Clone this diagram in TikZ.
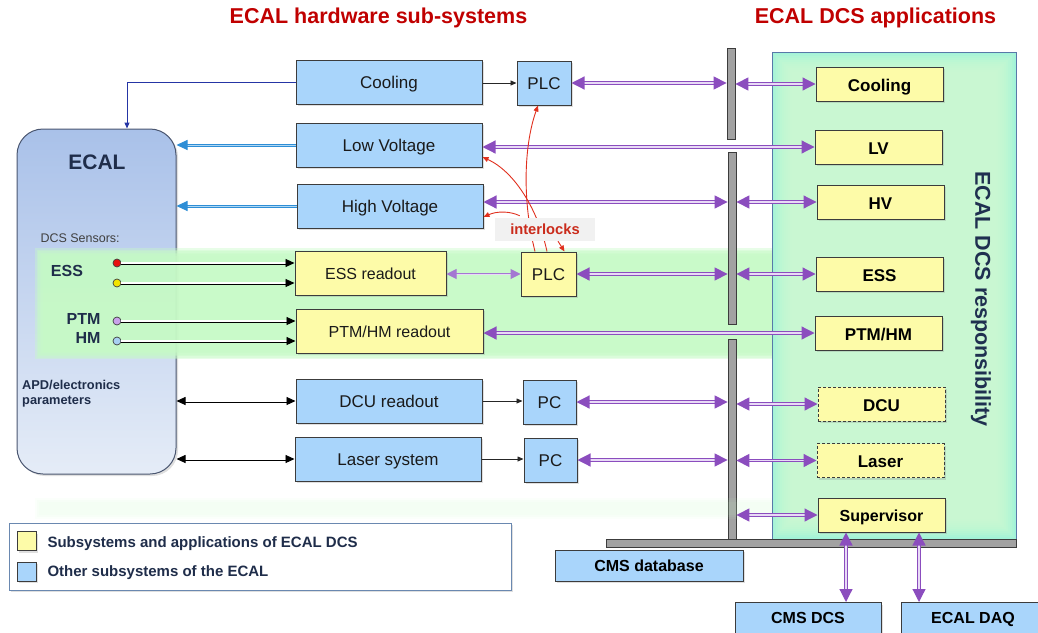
\documentclass[tikz,border=0pt]{standalone}
\usepackage{fontspec}
\setmainfont{Liberation Sans}
\usetikzlibrary{arrows.meta,shadows,calc}

\definecolor{hwblue}{HTML}{A9D5FB}
\definecolor{dcsyel}{HTML}{FDFBA8}
\definecolor{boxline}{HTML}{3C3C3C}
\definecolor{txt}{HTML}{1A1A1A}
\definecolor{navy}{HTML}{1F2D4A}
\definecolor{respnavy}{HTML}{1F3050}
\definecolor{titlered}{HTML}{C00000}
\definecolor{lockred}{HTML}{E0301E}
\definecolor{lockbg}{HTML}{F1F1F1}
\definecolor{purp}{HTML}{8B4DBE}
\definecolor{purpin}{HTML}{E8DAF6}
\definecolor{purplite}{HTML}{A477D2}
\definecolor{barg}{HTML}{A2A2A2}
\definecolor{bandg}{HTML}{C6FAC6}
\definecolor{panelaqua}{HTML}{A2F3D8}
\definecolor{panelg}{HTML}{D2FCD2}
\definecolor{panelline}{HTML}{5878A8}
\definecolor{ecaltop}{HTML}{A9C1E9}
\definecolor{ecalbot}{HTML}{E5ECF7}
\definecolor{ecalline}{HTML}{4A5670}
\definecolor{skyline}{HTML}{2E8ED6}
\definecolor{skyin}{HTML}{B0D8F4}
\definecolor{cooldark}{HTML}{2535A5}
\definecolor{legline}{HTML}{6A88B0}
\definecolor{dotred}{HTML}{E81010}
\definecolor{dotyel}{HTML}{F2E400}
\definecolor{dotlav}{HTML}{C9A2EA}
\definecolor{dotsky}{HTML}{A8D0F2}

\pgfdeclarelayer{front}
\pgfsetlayers{main,front}

\tikzset{
  shade2/.style={drop shadow={shadow xshift=2pt,shadow yshift=-2pt,opacity=0.25}},
  hwbox/.style={draw=boxline, line width=1pt, fill=hwblue, inner sep=0pt,
    minimum height=44pt, text=txt, font=\fontsize{17}{20}\selectfont,
    text height=13.5pt, text depth=0pt, shade2},
  dcsbox/.style={hwbox, fill=dcsyel, font=\fontsize{16}{19}\selectfont, text height=12.8pt},
  appbox/.style={draw=boxline, line width=1pt, fill=dcsyel, inner sep=0pt,
    minimum width=127pt, minimum height=34pt, text=black,
    font=\bfseries\fontsize{17}{20}\selectfont, text height=14pt, text depth=0pt, shade2},
  futurebox/.style={appbox, dashed, dash pattern=on 3pt off 2pt},
  extbox/.style={draw=boxline, line width=1pt, fill=hwblue, inner sep=0pt,
    text=black, font=\bfseries\fontsize{16}{19}\selectfont, shade2},
  busbar/.style={draw=boxline, line width=0.8pt, fill=barg, inner sep=0pt, minimum width=8pt},
  link/.style={draw=purp, line width=1.2pt, double=purpin, double distance=1.1pt,
    {Triangle[length=13pt,width=13pt]}-{Triangle[length=13pt,width=13pt]}},
  lightlink/.style={draw=purplite, line width=1pt, double=purpin, double distance=0.9pt,
    {Triangle[length=10pt,width=10pt]}-{Triangle[length=10pt,width=10pt]}},
  sens/.style={draw=black, line width=0.9pt, double=white, double distance=1.2pt,
    -{Triangle[length=9pt,width=8pt]}},
  sensboth/.style={sens, {Triangle[length=9pt,width=8pt]}-{Triangle[length=9pt,width=8pt]}},
  sky/.style={draw=skyline, line width=1pt, double=skyin, double distance=1pt,
    -{Triangle[length=11pt,width=10pt]}},
  feed/.style={draw=black!85, line width=0.8pt, -{Triangle[length=6pt,width=5pt]}},
  lock/.style={draw=lockred, line width=0.9pt, -{Triangle[length=6pt,width=5pt]}},
  dot/.style={circle, draw=black!75, line width=0.7pt, minimum size=8pt, inner sep=0pt},
}

\begin{document}
\begin{tikzpicture}[x=1pt,y=-1pt]
\useasboundingbox (0,0) rectangle (1038,632);
\clip (0,0) rectangle (1038,632);

% column titles
\node[font=\bfseries\fontsize{21.5}{24}\selectfont, text=titlered] (thw) at (378.5,18) {ECAL hardware sub-systems};
\node[font=\bfseries\fontsize{21.5}{24}\selectfont, text=titlered] (tapp) at (875.5,18) {ECAL DCS applications};

% DCS responsibility panel with a soft inner glow
\fill[panelaqua] (772,52) rectangle (1016,539);
\foreach \d in {2,4,...,20}
  \fill[panelg, opacity=0.18] ({772+\d},{52+\d}) rectangle ({1016-\d},{539-\d});
\draw[panelline, line width=1pt] (772,52) rectangle (1016,539);
\node[rotate=-90, font=\bfseries\fontsize{21.5}{26}\selectfont, text=respnavy] (resp) at (981,299) {ECAL DCS responsibility};

% the calorimeter itself
\node[draw=ecalline, line width=1pt, rounded corners=26pt, top color=ecaltop, bottom color=ecalbot,
  minimum width=159pt, minimum height=345pt, inner sep=0pt, shade2] (ecal) at (96.5,301.5) {};

% green band of the sensor chains
\foreach \d in {0,1.5,...,7.5}
  \fill[bandg, opacity=0.4] ({35+\d},{248+\d}) rectangle (772,{359-\d});

% labels inside the calorimeter
\node[font=\bfseries\fontsize{21}{24}\selectfont, text=navy] (ecalname) at (97,162) {ECAL};
\node[anchor=west, font=\fontsize{12.5}{15}\selectfont, text=black!75] (sensors) at (37,238) {DCS Sensors:};
\node[font=\bfseries\fontsize{16}{19}\selectfont, text=navy] (esslbl) at (67,271) {ESS};
\node[anchor=east, font=\bfseries\fontsize{16}{19}\selectfont, text=navy] (ptmlbl) at (104,319) {PTM};
\node[anchor=east, font=\bfseries\fontsize{16}{19}\selectfont, text=navy] (hmlbl) at (104,338) {HM};
\node[anchor=west, align=left, inner sep=0pt, font=\bfseries\fontsize{12.8}{15}\selectfont, text=navy] (apd) at (22,393.5) {APD/electronics\\parameters};

\node[dot, fill=dotred] (sred) at (117,263) {};
\node[dot, fill=dotyel] (syel) at (117,283) {};
\node[dot, fill=dotlav] (sptm) at (117,321) {};
\node[dot, fill=dotsky] (shm) at (117,341) {};

% DCS buses
\node[busbar, minimum height=91pt] (bar1) at (731,93.5) {};
\node[busbar, minimum height=172pt] (bar2) at (732,238) {};
\node[busbar, minimum height=207pt] (bar3) at (732,442.5) {};
\node[busbar, minimum width=410pt, minimum height=8pt] (hbar) at (811,543) {};

% faint glow along the supervisor row
\foreach \d in {0,2,4}
  \fill[bandg, opacity=0.07] ({35+\d},{498+\d}) rectangle (772,{519-\d});

% hardware sub-systems
\node[hwbox, minimum width=186pt] (coolhw) at (389,82) {Cooling};
\node[hwbox, minimum width=186pt] (lvhw) at (389,145) {Low Voltage};
\node[hwbox, minimum width=186pt] (hvhw) at (390,206) {High Voltage};
\node[dcsbox, minimum width=151pt] (essro) at (370.5,273) {ESS readout};
\node[dcsbox, minimum width=187pt] (ptmro) at (389.5,331) {PTM/HM readout};
\node[hwbox, minimum width=186pt] (dcuro) at (389,401) {DCU readout};
\node[hwbox, minimum width=186pt] (laserhw) at (388,459) {Laser system};
\node[hwbox, minimum width=54pt] (plc1) at (544,83) {PLC};
\node[dcsbox, minimum width=55pt, font=\fontsize{17}{20}\selectfont, text height=13.5pt] (plc2) at (548.5,274) {PLC};
\node[hwbox, minimum width=53pt] (pc1) at (549.5,402) {PC};
\node[hwbox, minimum width=53pt] (pc2) at (550.5,460) {PC};

% DCS applications
\node[appbox] (acool) at (879.5,84) {Cooling};
\node[appbox] (alv) at (878.5,147) {LV};
\node[appbox] (ahv) at (880.5,202) {HV};
\node[appbox] (aess) at (879.5,274) {ESS};
\node[appbox] (aptm) at (878.5,333) {PTM/HM};
\node[futurebox] (adcu) at (881.5,404) {DCU};
\node[futurebox] (alaser) at (880.5,460.5) {Laser};
\node[appbox, font=\bfseries\fontsize{16}{19}\selectfont, text height=13.5pt] (asup) at (881.5,515) {Supervisor};

% external systems
\node[extbox, minimum width=188pt, minimum height=31pt, text height=12.8pt, text depth=0pt] (cmsdb) at (649,565.5) {CMS database};
\node[extbox, anchor=north, minimum width=146pt, text height=17pt, text depth=14pt, inner ysep=4pt] (cmsdcs) at (808,602) {CMS DCS};
\node[extbox, anchor=north, minimum width=144pt, text height=17pt, text depth=14pt, inner ysep=4pt] (ecaldaq) at (973,602) {ECAL DAQ};

% legend
\node[draw=legline, line width=1pt, fill=white, minimum width=502pt, minimum height=67pt, inner sep=0pt, shade2] (legend) at (260,556.5) {};
\node[draw=boxline, line width=1pt, fill=dcsyel, minimum size=19pt, inner sep=0pt, shade2] (swy) at (26.5,541) {};
\node[draw=boxline, line width=1pt, fill=hwblue, minimum size=19pt, inner sep=0pt, shade2] (swb) at (26.5,571.5) {};
\node[anchor=west, font=\bfseries\fontsize{15}{18}\selectfont, text=navy, text height=10.8pt, text depth=0pt] (legy) at (44,542) {Subsystems and applications of ECAL DCS};
\node[anchor=west, font=\bfseries\fontsize{15}{18}\selectfont, text=navy, text height=10.8pt, text depth=0pt] (legb) at (44,571) {Other subsystems of the ECAL};

% hardware connections
\draw[cooldark, line width=1pt, -{Triangle[length=6pt,width=5pt]}] (coolhw.west) -| ([xshift=30.5pt]ecal.north);
\draw[sky] (lvhw.west) -- (lvhw.west -| ecal.east);
\draw[sky] (hvhw.west) -- (hvhw.west -| ecal.east);
\draw[sens] (sred.east) -- (sred -| essro.west);
\draw[sens] (syel.east) -- (syel -| essro.west);
\draw[sens] (sptm.east) -- (sptm -| ptmro.west);
\draw[sens] (shm.east) -- (shm -| ptmro.west);
\draw[sensboth] (ecal.east |- dcuro.west) -- (dcuro.west);
\draw[sensboth] (ecal.east |- laserhw.west) -- (laserhw.west);
\draw[feed] (coolhw.east |- plc1.west) -- (plc1.west);
\draw[feed] (dcuro.east) -- (dcuro.east -| pc1.west);
\draw[feed] (laserhw.east) -- (laserhw.east -| pc2.west);

% DCS links
\draw[link] (plc1.east) -- (plc1.east -| bar1.west);
\draw[link] (bar1.east |- acool.west) -- (acool.west);
\draw[link] (lvhw.east |- alv.west) -- (alv.west);
\draw[link] (hvhw.east |- ahv.west) -- (ahv.west -| bar2.west);
\draw[link] (bar2.east |- ahv.west) -- (ahv.west);
\draw[lightlink] (essro.east |- plc2.west) -- (plc2.west);
\draw[link] (plc2.east) -- (plc2.east -| bar2.west);
\draw[link] (bar2.east |- aess.west) -- (aess.west);
\draw[link] (ptmro.east |- aptm.west) -- (aptm.west);
\draw[link] (pc1.east) -- (pc1.east -| bar3.west);
\draw[link] (bar3.east |- adcu.west) -- (adcu.west);
\draw[link] (pc2.east) -- (pc2.east -| bar3.west);
\draw[link] (bar3.east |- alaser.west) -- (alaser.west);
\draw[link] (bar3.east |- asup.west) -- (asup.west);
\draw[link] ([xshift=-35.5pt]asup.south) -- ([xshift=38pt]cmsdcs.north);
\draw[link] ([xshift=37.5pt]asup.south) -- ([xshift=-54pt]ecaldaq.north);

% interlocks
\begin{pgfonlayer}{front}
\node[fill=lockbg, minimum width=100pt, minimum height=23pt, inner sep=0pt,
  font=\bfseries\fontsize{14.7}{17}\selectfont, text=lockred!90!black] (interlock) at (545,229.5) {interlocks};
\end{pgfonlayer}
\draw[lock] ([xshift=-13.5pt]plc2.north) .. controls (522,200) and (524,145) .. ([xshift=-6pt]plc1.south);
\draw[lock] ([xshift=-1.5pt]plc2.north) .. controls (538,210) and (515,172) .. ([yshift=-12pt]lvhw.east);
\draw[lock] ([xshift=25pt,yshift=2pt]interlock.north west) .. controls (510,211) and (497,211) .. ([yshift=-11pt]hvhw.east);
\draw[lock] ([xshift=13pt]interlock.south) -- ([xshift=16pt]plc2.north);
\end{tikzpicture}
\end{document}
